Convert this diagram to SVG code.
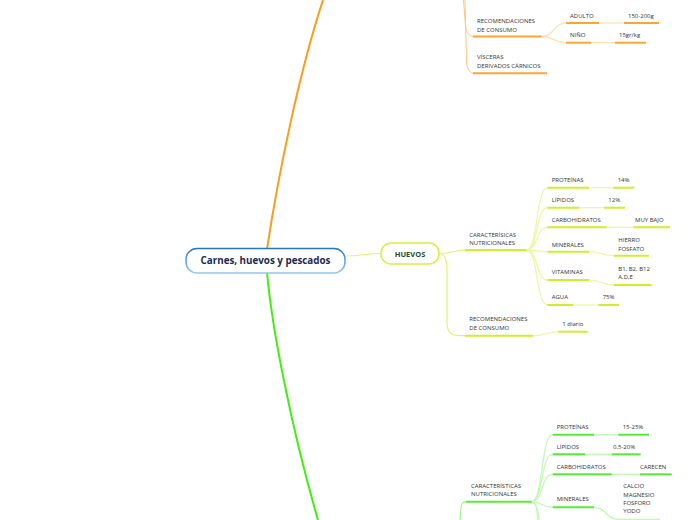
<svg xmlns="http://www.w3.org/2000/svg" width="696" height="520" viewBox="0 0 696 520">
<defs>
<linearGradient id="cb" x1="0" y1="0" x2="0" y2="1">
<stop offset="0" stop-color="#2078c0"/>
<stop offset="1" stop-color="#92c8ec"/>
</linearGradient>
<style>
.t{font-family:"Open Sans","DejaVu Sans",sans-serif;font-size:6px;fill:#333}
path,line{fill:none;stroke-linecap:butt}
.uo{stroke:#f8a634;stroke-width:2}
.po{stroke:#fde0b6;stroke-width:1.3}
.lo{stroke:#fcc880;stroke-width:1}
.uy{stroke:#cdf02a;stroke-width:2}
.py{stroke:#ecf8a6;stroke-width:1.3}
.ly{stroke:#def27a;stroke-width:1.2}
.ug{stroke:#55ee36;stroke-width:2}
.pg{stroke:#c6f7b8;stroke-width:1.3}
.lg{stroke:#a2f290;stroke-width:1.2}
</style>
</defs>
<rect width="696" height="520" fill="#ffffff"/>

<g id="connectors">
<path d="M267,249 C279,170 300,70 323,0" stroke="#f99d1c" stroke-width="2"/>
<path d="M267,272 C272,330 292,430 318,520" stroke="#44ee11" stroke-width="2"/>
<path d="M345,256 C362,256 364,253.5 381,253.5" class="ly"/>
<path d="M463.5,0 L465.5,26 Q466.5,36.5 474,36.5" class="lo"/>
<path d="M465,0 L466.5,62 Q467.5,73.3 474,73.3" class="lo"/>
<path d="M541.5,36.5 C554,36.5 554,23 566,23" class="po"/>
<path d="M541.5,36.5 C554,36.5 554,42.7 566,42.7" class="po"/>
<path d="M599,23 H624" class="po"/>
<path d="M591,42.7 H615" class="po"/>
<path d="M439,253.5 C452,253.5 452,250 465,250" class="ly"/>
<path d="M439,253.5 C446,253.5 447,262 447,272 L447,322 C447,335.7 453,335.7 465,335.7" class="ly"/>
<path d="M526.7,250 C538,250 536,187.7 547.3,187.7" class="py"/>
<path d="M526.7,250 C538,250 536,207.7 547.3,207.7" class="py"/>
<path d="M526.7,250 C538,250 536,227.3 547.3,227.3" class="py"/>
<path d="M526.7,250 C538,250 536,251.7 547.3,251.7" class="py"/>
<path d="M526.7,250 C538,250 536,280 547.3,280" class="py"/>
<path d="M526.7,250 C538,250 536,305 547.3,305" class="py"/>
<path d="M589,187.7 H613.3" class="py"/>
<path d="M579.3,207.7 H604" class="py"/>
<path d="M606.7,227.3 H633.3" class="py"/>
<path d="M589.3,251.7 C602,251.7 601,255.7 614,255.7" class="py"/>
<path d="M589,280 C602,280 601,285 614,285" class="py"/>
<path d="M573.3,305 H598.3" class="py"/>
<path d="M533.3,335.7 C546,335.7 546,331.7 558.3,331.7" class="py"/>
<path d="M460,520 C461,506 461,501.7 466,501.7" class="lg"/>
<path d="M531.7,501.7 C543,501.7 541,434.7 552.7,434.7" class="pg"/>
<path d="M531.7,501.7 C543,501.7 541,454.3 552.7,454.3" class="pg"/>
<path d="M531.7,501.7 C543,501.7 541,474.3 552.7,474.3" class="pg"/>
<path d="M531.7,501.7 C543,501.7 541,507.3 552.7,507.3" class="pg"/>
<path d="M531.7,501.7 C540,501.7 537,530 539,560" class="pg"/>
<path d="M531.7,501.7 C541,501.7 540,540 545,580" class="pg"/>
<path d="M594,434.7 H618.3" class="pg"/>
<path d="M585,454.3 H611.7" class="pg"/>
<path d="M611.7,474.3 H640" class="pg"/>
<path d="M594,507.3 C606,507.3 606,519.3 618,519.3 H660" class="pg"/>
</g>

<g id="central">
<rect x="186" y="248.5" width="159" height="24.5" rx="11" fill="#ffffff" stroke="url(#cb)" stroke-width="1.5"/>
<text x="265.5" y="264.3" text-anchor="middle" style="font-family:'Open Sans','DejaVu Sans',sans-serif;font-size:9.8px;font-weight:bold;fill:#1b2a4e">Carnes, huevos y pescados</text>
</g>

<g id="huevos">
<rect x="381" y="243" width="58" height="21" rx="10" fill="#ffffff" stroke="#d4f23a" stroke-width="1.5"/>
<text x="410" y="256.6" text-anchor="middle" style="font-family:'Open Sans','DejaVu Sans',sans-serif;font-size:7.5px;font-weight:bold;fill:#1e4a3a">HUEVOS</text>
</g>

<g id="carnes-recomendaciones">
<text class="t" x="477" y="22.7">RECOMENDACIONES</text>
<text class="t" x="477" y="31.7">DE CONSUMO</text>
<path d="M473,36.5 H541.5" class="uo"/>
</g>
<g id="carnes-adulto">
<text class="t" x="570" y="17.5">ADULTO</text>
<path d="M566,23 H599" class="uo"/>
</g>
<g id="carnes-adulto-val">
<text class="t" x="628" y="17.5">150-200g</text>
<path d="M624,23 H659" class="uo"/>
</g>
<g id="carnes-nino">
<text class="t" x="570" y="37.3">NIÑO</text>
<path d="M566,42.7 H591" class="uo"/>
</g>
<g id="carnes-nino-val">
<text class="t" x="619" y="37.3">15gr/kg</text>
<path d="M615,42.7 H646" class="uo"/>
</g>
<g id="carnes-visceras">
<text class="t" x="477" y="59.3">VÍSCERAS</text>
<text class="t" x="477" y="68.3">DERIVADOS CÁRNICOS</text>
<path d="M473,73.3 H547" class="uo"/>
</g>

<g id="h-caract">
<text class="t" x="469.3" y="236.7">CARACTERÍSICAS</text>
<text class="t" x="469.3" y="245">NUTRICIONALES</text>
<path d="M465,250 H526.7" class="uy"/>
</g>
<g id="h-prot">
<text class="t" x="551.7" y="182.3">PROTEÍNAS</text>
<path d="M547.3,187.7 H589" class="uy"/>
</g>
<g id="h-prot-val">
<text class="t" x="617.7" y="182.3">14%</text>
<path d="M613.3,187.7 H634.3" class="uy"/>
</g>
<g id="h-lip">
<text class="t" x="551.7" y="202.3">LÍPIDOS</text>
<path d="M547.3,207.7 H579.3" class="uy"/>
</g>
<g id="h-lip-val">
<text class="t" x="608.3" y="202.3">12%</text>
<path d="M604,207.7 H625" class="uy"/>
</g>
<g id="h-carb">
<text class="t" x="551.7" y="221.7">CARBOHIDRATOS</text>
<path d="M547.3,227.3 H606.7" class="uy"/>
</g>
<g id="h-carb-val">
<text class="t" x="635" y="221.7">MUY BAJO</text>
<path d="M633.3,227.3 H670" class="uy"/>
</g>
<g id="h-min">
<text class="t" x="551.7" y="246.7">MINERALES</text>
<path d="M547.3,251.7 H589.3" class="uy"/>
</g>
<g id="h-min-val">
<text class="t" x="618.3" y="242.3">HIERRO</text>
<text class="t" x="618.3" y="250.6">FOSFATO</text>
<path d="M614,255.7 H649" class="uy"/>
</g>
<g id="h-vit">
<text class="t" x="551.7" y="274.3">VITAMINAS</text>
<path d="M547.3,280 H589" class="uy"/>
</g>
<g id="h-vit-val">
<text class="t" x="618.3" y="270.6">B1, B2, B12</text>
<text class="t" x="618.3" y="279.2">A,D,E</text>
<path d="M614,285 H651.7" class="uy"/>
</g>
<g id="h-agua">
<text class="t" x="551.7" y="299.3">AGUA</text>
<path d="M547.3,305 H573.3" class="uy"/>
</g>
<g id="h-agua-val">
<text class="t" x="602.7" y="299.3">75%</text>
<path d="M598.3,305 H619" class="uy"/>
</g>
<g id="h-recom">
<text class="t" x="469.3" y="320.5">RECOMENDACIONES</text>
<text class="t" x="469.3" y="329.7">DE CONSUMO</text>
<path d="M465,335.7 H533.3" class="uy"/>
</g>
<g id="h-recom-val">
<text class="t" x="562.3" y="325.9">1 diario</text>
<path d="M558.3,331.7 H587.7" class="uy"/>
</g>

<g id="p-caract">
<text class="t" x="471" y="487.5">CARACTERÍSTICAS</text>
<text class="t" x="471" y="496.2">NUTRICIONALES</text>
<path d="M466,501.7 H531.7" class="ug"/>
</g>
<g id="p-prot">
<text class="t" x="556.7" y="429.3">PROTEÍNAS</text>
<path d="M552.7,434.7 H594" class="ug"/>
</g>
<g id="p-prot-val">
<text class="t" x="622.7" y="429.3">15-25%</text>
<path d="M618.3,434.7 H649" class="ug"/>
</g>
<g id="p-lip">
<text class="t" x="556.7" y="449">LÍPIDOS</text>
<path d="M552.7,454.3 H585" class="ug"/>
</g>
<g id="p-lip-val">
<text class="t" x="613" y="449">0,5-20%</text>
<path d="M611.7,454.3 H640.7" class="ug"/>
</g>
<g id="p-carb">
<text class="t" x="556.7" y="469">CARBOHIDRATOS</text>
<path d="M552.7,474.3 H611.7" class="ug"/>
</g>
<g id="p-carb-val">
<text class="t" x="640" y="469">CARECEN</text>
<path d="M640,474.3 H671.7" class="ug"/>
</g>
<g id="p-min">
<text class="t" x="556.7" y="501.2">MINERALES</text>
<path d="M552.7,507.3 H594" class="ug"/>
</g>
<g id="p-min-val">
<text class="t" x="623.3" y="488.4">CALCIO</text>
<text class="t" x="623.3" y="496.7">MAGNESIO</text>
<text class="t" x="623.3" y="505">FOSFORO</text>
<text class="t" x="623.3" y="513.3">YODO</text>
</g>
</svg>
